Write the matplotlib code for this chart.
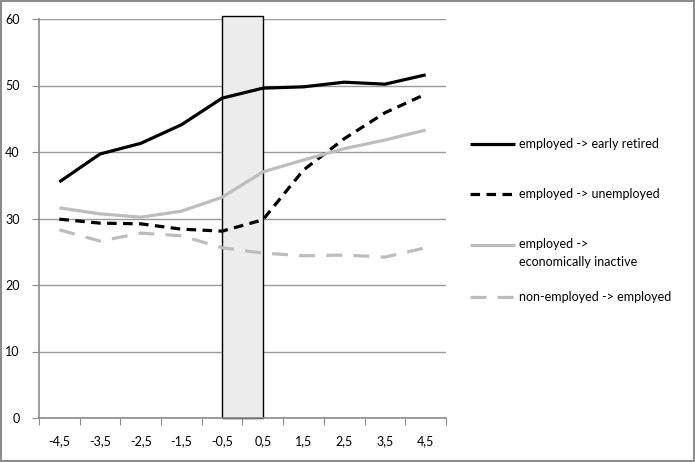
import matplotlib
matplotlib.use("Agg")
import matplotlib.pyplot as plt
from matplotlib.lines import Line2D
from matplotlib.patches import Rectangle
import numpy as np

plt.rcParams['font.family'] = ['Lato', 'DejaVu Sans']

# years relative to transition
x = [-4.5, -3.5, -2.5, -1.5, -0.5, 0.5, 1.5, 2.5, 3.5, 4.5]
x_labels = ["-4,5", "-3,5", "-2,5", "-1,5", "-0,5", "0,5", "1,5", "2,5", "3,5", "4,5"]

early_retired = [35.5, 39.7, 41.3, 44.1, 48.1, 49.6, 49.8, 50.5, 50.2, 51.6]
unemployed = [29.9, 29.3, 29.2, 28.4, 28.1, 29.8, 37.3, 42.0, 45.9, 48.7]
inactive = [31.6, 30.7, 30.2, 31.1, 33.2, 37.0, 38.8, 40.5, 41.8, 43.3]
non_to_employed = [28.3, 26.6, 27.8, 27.4, 25.6, 24.8, 24.4, 24.5, 24.2, 25.6]

labels = ["employed -> early retired", "employed -> unemployed",
          "employed ->\neconomically inactive", "non-employed -> employed"]

fig = plt.figure(figsize=(6.95, 4.62), dpi=100)
fig.patch.set_edgecolor('#8c8c8c')
fig.patch.set_linewidth(1.5)
ax = fig.add_axes([39/695, 1-418/462, 407/695, 399/462])

grey = '#bdbdbd'
styles = [
    dict(color='black', lw=2.3, ls='-'),
    dict(color='black', lw=2.3, ls=(0, (3, 2))),
    dict(color=grey, lw=2.3, ls='-'),
    dict(color=grey, lw=2.3, ls=(0, (5, 3.5))),
]
series = [early_retired, unemployed, inactive, non_to_employed]

# shaded transition window
ax.add_patch(Rectangle((-0.5, 0), 1, 60.4, facecolor='#ececec', edgecolor='black',
                       lw=1, zorder=1, clip_on=False))

for s, st in zip(series, styles):
    ax.plot(x, s, zorder=3, solid_capstyle='butt', dash_capstyle='butt', **st)

ax.set_xlim(-5, 5)
ax.set_ylim(0, 60)
ax.set_yticks(range(0, 61, 10))
ax.yaxis.grid(True, color='#999999', lw=1)
ax.set_axisbelow(True)

ax.set_xticks(np.arange(-5, 6, 1))
ax.set_xticklabels([])
ax.set_xticks(x, minor=True)
ax.set_xticklabels(x_labels, minor=True)
ax.tick_params(axis='x', which='major', length=5, color='#8c8c8c', direction='out')
ax.tick_params(axis='x', which='minor', length=0, pad=12, labelsize=9)
ax.tick_params(axis='y', length=5, color='#8c8c8c', labelsize=9, pad=9)

for side in ['top', 'right']:
    ax.spines[side].set_visible(False)
for side in ['left', 'bottom']:
    ax.spines[side].set_color('#8c8c8c')
    ax.spines[side].set_linewidth(1.2)

# legend drawn at right
ys = [144, 194, 245, 297]
for st, lab, yy in zip(styles, labels, ys):
    yf = 1 - yy/462
    fig.add_artist(Line2D([470/695, 515/695], [yf, yf], transform=fig.transFigure,
                          solid_capstyle='butt', dash_capstyle='butt', **st))
    fig.text(519/695, yf + 0.015 if '\n' in lab else yf, lab, fontsize=9,
             va='top' if '\n' in lab else 'center', ha='left', linespacing=1.6)

fig.savefig("out.png", dpi=100, edgecolor=fig.get_edgecolor())
